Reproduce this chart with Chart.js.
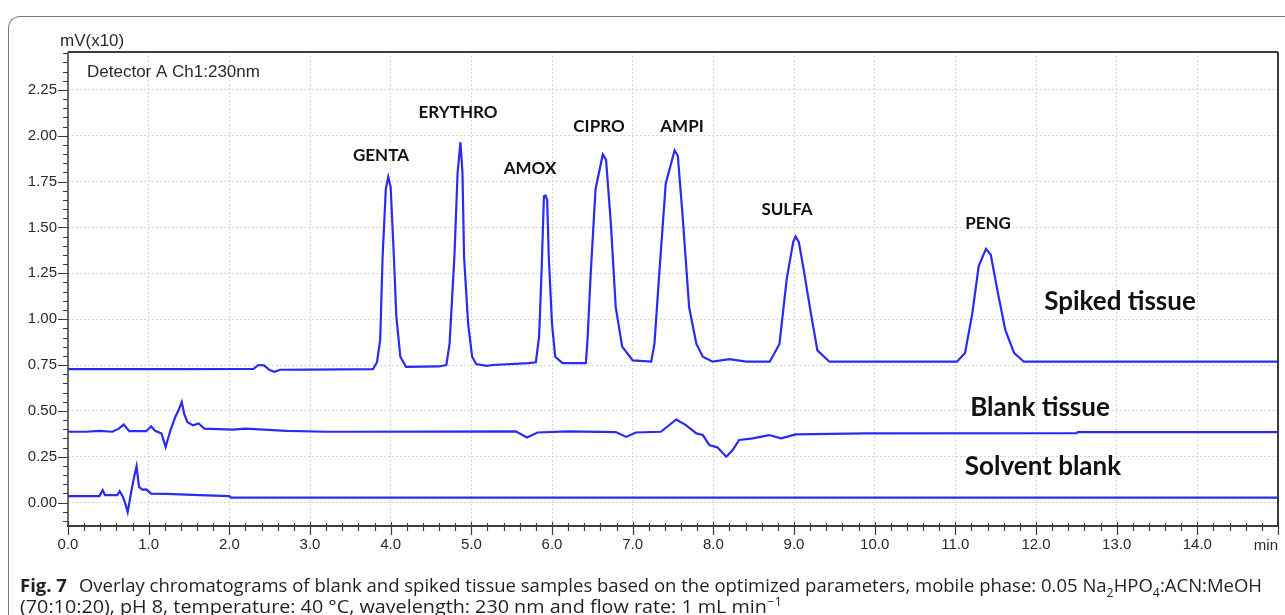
<!DOCTYPE html>
<html>
<head>
<meta charset="utf-8">
<script src="https://cdn.jsdelivr.net/npm/chart.js@4.4.1/dist/chart.umd.min.js"></script>
<style>
  body { margin: 0; background: #fff; overflow: hidden; }
  #wrap { position: relative; width: 1285px; height: 615px; overflow: hidden; }
  #frame { position: absolute; left: 8px; top: 16px; width: 1300px; height: 640px;
           border-top: 1.5px solid #7a7a7a; border-left: 1.5px solid #7a7a7a; border-top-left-radius: 12px; }
  #c { position: absolute; left: 0; top: 0; }
  .cap { position: absolute; left: 20px; font-family: "Open Sans", "Noto Sans", sans-serif;
         font-size: 18px; line-height: 22px; color: #231f20; white-space: nowrap; transform-origin: left center; }
  .cap b { font-weight: 700; margin-right: 7px; }
  .cap sub, .cap sup { font-size: 12px; line-height: 0; }
</style>
</head>
<body>
<div id="wrap">
  <div id="frame"></div>
  <canvas id="c" width="1285" height="615"></canvas>
  <div class="cap" id="cap1" style="top:574px"><b>Fig. 7</b> Overlay chromatograms of blank and spiked tissue samples based on the optimized parameters, mobile phase: 0.05 Na<sub>2</sub>HPO<sub>4</sub>:ACN:MeOH</div>
  <div class="cap" id="cap2" style="top:595px">(70:10:20), pH 8, temperature: 40 °C, wavelength: 230 nm and flow rate: 1 mL min<sup>−1</sup></div>
</div>
<script>
const spikedTissue = [
  [0, 0.727], [1.5, 0.727], [2.30, 0.729], [2.36, 0.750], [2.43, 0.748], [2.50, 0.722], [2.56, 0.713],
  [2.63, 0.724], [3.0, 0.725], [3.78, 0.727], [3.83, 0.765], [3.87, 0.885], [3.90, 1.34], [3.94, 1.71],
  [3.97, 1.776], [4.00, 1.72], [4.04, 1.34], [4.07, 1.015], [4.12, 0.795], [4.19, 0.740], [4.60, 0.742],
  [4.69, 0.750], [4.73, 0.865], [4.79, 1.34], [4.83, 1.80], [4.865, 1.965], [4.89, 1.80], [4.91, 1.34],
  [4.96, 0.975], [5.01, 0.795], [5.06, 0.755], [5.19, 0.745], [5.27, 0.750], [5.71, 0.760], [5.80, 0.765],
  [5.84, 0.905], [5.87, 1.25], [5.90, 1.67], [5.92, 1.674], [5.94, 1.65], [5.96, 1.34], [6.00, 0.975],
  [6.04, 0.795], [6.13, 0.760], [6.42, 0.760], [6.44, 0.885], [6.48, 1.25], [6.54, 1.71], [6.63, 1.898],
  [6.67, 1.87], [6.73, 1.52], [6.79, 1.065], [6.87, 0.850], [7.00, 0.775], [7.23, 0.768], [7.27, 0.865],
  [7.33, 1.25], [7.41, 1.74], [7.52, 1.921], [7.56, 1.89], [7.62, 1.56], [7.70, 1.065], [7.79, 0.865],
  [7.87, 0.795], [7.99, 0.768], [8.20, 0.782], [8.41, 0.768], [8.70, 0.768], [8.82, 0.865], [8.91, 1.22],
  [8.99, 1.42], [9.02, 1.451], [9.06, 1.42], [9.12, 1.27], [9.21, 1.03], [9.29, 0.830], [9.44, 0.768],
  [11.02, 0.768], [11.12, 0.815], [11.21, 1.03], [11.29, 1.29], [11.38, 1.383], [11.44, 1.35], [11.52, 1.16],
  [11.62, 0.940], [11.73, 0.815], [11.85, 0.768], [15, 0.768]
];

const blankTissue = [
  [0, 0.386], [0.22, 0.386], [0.39, 0.391], [0.55, 0.386], [0.63, 0.403], [0.69, 0.425], [0.76, 0.389],
  [0.97, 0.389], [1.03, 0.416], [1.08, 0.391], [1.16, 0.376], [1.21, 0.303], [1.27, 0.394], [1.33, 0.467],
  [1.37, 0.503], [1.41, 0.548], [1.44, 0.485], [1.48, 0.439], [1.55, 0.421], [1.62, 0.431], [1.69, 0.403],
  [2.04, 0.398], [2.20, 0.403], [2.71, 0.391], [3.20, 0.386], [3.5, 0.386], [5.55, 0.388], [5.69, 0.355],
  [5.82, 0.382], [6.20, 0.388], [6.79, 0.384], [6.92, 0.358], [7.04, 0.382], [7.35, 0.386], [7.54, 0.453],
  [7.66, 0.422], [7.79, 0.377], [7.87, 0.368], [7.95, 0.313], [8.05, 0.301], [8.16, 0.250], [8.24, 0.286],
  [8.32, 0.341], [8.49, 0.350], [8.69, 0.368], [8.84, 0.350], [9.02, 0.372], [9.89, 0.377], [12.5, 0.378],
  [12.52, 0.384], [15, 0.384]
];

const solventBlank = [
  [0, 0.035], [0.39, 0.035], [0.43, 0.067], [0.46, 0.040], [0.61, 0.040], [0.64, 0.062], [0.68, 0.032],
  [0.71, -0.005], [0.74, -0.052], [0.78, 0.049], [0.82, 0.140], [0.85, 0.198], [0.88, 0.085], [0.92, 0.071],
  [0.97, 0.072], [1.03, 0.049], [1.22, 0.047], [1.63, 0.040], [2.0, 0.035], [2.02, 0.027], [15, 0.027]
];

const xTicks = [0, 1, 2, 3, 4, 5, 6, 7, 8, 9, 10, 11, 12, 13, 14];
const yTicks = [0, 0.25, 0.5, 0.75, 1.0, 1.25, 1.5, 1.75, 2.0, 2.25];
const peakNames = ['GENTA', 'ERYTHRO', 'AMOX', 'CIPRO', 'AMPI', 'SULFA', 'PENG'];
const traceNames = ['Spiked tissue', 'Blank tissue', 'Solvent blank'];
const yUnit = 'mV(x10)';
const xUnit = 'min';
const detector = 'Detector A Ch1:230nm';

const lineColor = '#2a2af2';
const toXY = arr => arr.map(p => ({ x: p[0], y: p[1] }));

// Desenha eixos, ticks menores e os textos
const decoracao = {
  id: 'decoracao',
  afterDatasetsDraw(chart) {
    const { ctx, chartArea: a, scales: { x, y } } = chart;
    ctx.save();
    ctx.strokeStyle = '#3c3c3c';
    // moldura
    ctx.lineWidth = 2;
    ctx.beginPath();
    ctx.moveTo(a.left, a.top); ctx.lineTo(a.right, a.top);
    ctx.moveTo(a.right, a.top); ctx.lineTo(a.right, a.bottom);
    ctx.moveTo(a.left - 1, a.bottom); ctx.lineTo(a.right + 1, a.bottom);
    ctx.stroke();
    ctx.lineWidth = 1.5;
    ctx.beginPath();
    ctx.moveTo(a.left, a.top); ctx.lineTo(a.left, a.bottom);
    ctx.stroke();

    // ticks eixo Y
    ctx.lineWidth = 1.2;
    ctx.beginPath();
    for (let i = -2; i <= 49; i++) {
      const v = i * 0.05;
      const py = Math.round(y.getPixelForValue(v)) + 0.5;
      if (py < a.top || py > a.bottom) continue;
      const len = (i % 5 === 0) ? 10 : 5;
      ctx.moveTo(a.left - len, py); ctx.lineTo(a.left, py);
    }
    ctx.stroke();
    // ticks eixo X
    ctx.beginPath();
    for (let i = 0; i <= 75; i++) {
      const v = i * 0.2;
      const px = Math.round(x.getPixelForValue(v)) + 0.5;
      const big = (i % 5 === 0);
      ctx.moveTo(px, a.bottom - (big ? 4 : 3)); ctx.lineTo(px, a.bottom + (big ? 9 : 5));
    }
    ctx.stroke();

    // textos
    ctx.fillStyle = '#2a2a2a';
    ctx.font = '17px "Liberation Sans", Arial, sans-serif';
    ctx.textBaseline = 'middle';
    ctx.textAlign = 'left';
    ctx.fillText(yUnit, 60, 41);
    ctx.fillText(detector, 87, 72);
    ctx.font = '15px "Liberation Sans", Arial, sans-serif';
    ctx.textAlign = 'right';
    ctx.fillText(xUnit, a.right, 546);

    ctx.fillStyle = '#111';
    ctx.textAlign = 'center';
    ctx.font = 'bold 17px Lato, "Open Sans", sans-serif';
    const peakPos = [[381, 156], [458, 113], [530, 169], [599, 127], [682, 127], [787, 210], [988, 224]];
    peakNames.forEach((n, i) => ctx.fillText(n, peakPos[i][0], peakPos[i][1]));
    ctx.font = 'bold 26px Lato, "Open Sans", sans-serif';
    const tracePos = [[1120, 302], [1040, 408], [1043, 467]];
    traceNames.forEach((n, i) => ctx.fillText(n, tracePos[i][0], tracePos[i][1]));
    ctx.restore();
  }
};

const ctx = document.getElementById('c').getContext('2d');
const ds = (arr) => ({
  data: toXY(arr),
  borderColor: lineColor,
  borderWidth: 2.2,
  pointRadius: 0,
  tension: 0,
  fill: false
});

new Chart(ctx, {
  type: 'line',
  data: { datasets: [ds(spikedTissue), ds(blankTissue), ds(solventBlank)] },
  options: {
    responsive: false,
    animation: false,
    layout: { padding: { top: 52, left: 0, right: 7, bottom: 0 } },
    plugins: { legend: { display: false }, tooltip: { enabled: false } },
    scales: {
      x: {
        type: 'linear', min: 0, max: 15,
        afterFit: s => { s.height = 89; },
        afterBuildTicks: s => { s.ticks = xTicks.map(v => ({ value: v })); },
        border: { display: false, dash: [2, 2] },
        grid: { color: '#d6d6d6', drawTicks: false, lineWidth: 1 },
        ticks: {
          color: '#2a2a2a', padding: 10, maxRotation: 0, autoSkip: false,
          font: { family: '"Liberation Sans", Arial, sans-serif', size: 15 },
          callback: v => v.toFixed(1)
        }
      },
      y: {
        type: 'linear', min: -0.128, max: 2.457,
        afterFit: s => { s.width = 68; },
        afterBuildTicks: s => { s.ticks = yTicks.map(v => ({ value: v })); },
        border: { display: false, dash: [2, 2] },
        grid: { color: '#d6d6d6', drawTicks: false, lineWidth: 1 },
        ticks: {
          color: '#2a2a2a', padding: 11,
          font: { family: '"Liberation Sans", Arial, sans-serif', size: 15 },
          callback: v => v.toFixed(2)
        }
      }
    }
  },
  plugins: [decoracao]
});

// Ajusta a largura da legenda da figura
function ajustar(id, largura) {
  const el = document.getElementById(id);
  const w = el.getBoundingClientRect().width;
  if (w > 0) el.style.transform = 'scaleX(' + (largura / w) + ')';
}
ajustar('cap1', 1242);
ajustar('cap2', 762);
</script>
</body>
</html>
